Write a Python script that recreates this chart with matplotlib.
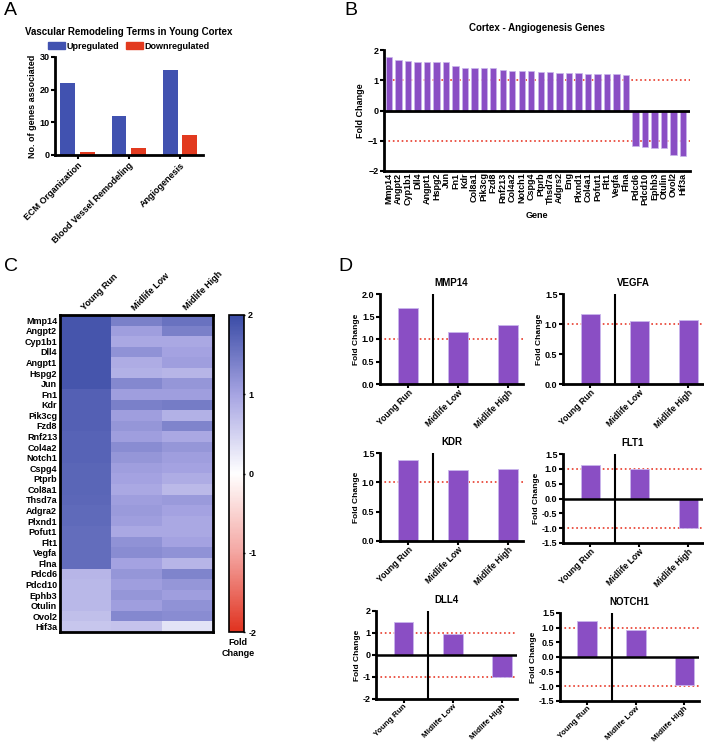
import numpy as np
import matplotlib
matplotlib.use("Agg")
import matplotlib.pyplot as plt
from matplotlib.colors import LinearSegmentedColormap
from matplotlib.patches import Patch

plt.rcParams['font.family'] = ['Liberation Sans', 'DejaVu Sans']
plt.rcParams['font.weight'] = 'bold'
plt.rcParams['axes.labelweight'] = 'bold'

# ---- data ----
# panel A
terms = ["ECM Organization", "Blood Vessel Remodeling", "Angiogenesis"]
up_counts = [22, 12, 26]
down_counts = [1, 2, 6]

# panel B
genes_b = ["Mmp14", "Angpt2", "Cyp1b1", "Dll4", "Angpt1", "Hspg2", "Jun", "Fn1", "Kdr",
           "Col8a1", "Pik3cg", "Fzd8", "Rnf213", "Col4a2", "Notch1", "Cspg4", "Ptprb",
           "Thsd7a", "Adgrs2", "Eng", "Plxnd1", "Col4a1", "Pofut1", "Flt1", "Vegfa", "Flna",
           "Pdcd6", "Pdcd10", "Ephb3", "Otulin", "Ovol2", "Hif3a"]
fold_b = [1.76, 1.67, 1.62, 1.60, 1.59, 1.59, 1.59, 1.46, 1.42, 1.41, 1.40, 1.39, 1.34,
          1.31, 1.30, 1.30, 1.28, 1.26, 1.23, 1.23, 1.23, 1.21, 1.21, 1.21, 1.20, 1.19,
          -1.19, -1.22, -1.23, -1.23, -1.47, -1.51]

# panel C
genes_c = ["Mmp14", "Angpt2", "Cyp1b1", "Dll4", "Angpt1", "Hspg2", "Jun", "Fn1", "Kdr",
           "Pik3cg", "Fzd8", "Rnf213", "Col4a2", "Notch1", "Cspg4", "Ptprb", "Col8a1",
           "Thsd7a", "Adgra2", "Plxnd1", "Pofut1", "Flt1", "Vegfa", "Flna", "Pdcd6",
           "Pdcd10", "Ephb3", "Otulin", "Ovol2", "Hif3a"]
groups = ["Young Run", "Midlife Low", "Midlife High"]
heat_young = [1.88, 1.88, 1.88, 1.88, 1.88, 1.88, 1.88, 1.75, 1.75, 1.75, 1.75, 1.72, 1.72,
              1.72, 1.70, 1.70, 1.70, 1.68, 1.65, 1.65, 1.62, 1.62, 1.62, 1.62,
              0.80, 0.78, 0.78, 0.78, 0.70, 0.62]
heat_low = [1.40, 1.05, 0.95, 1.20, 0.90, 0.85, 1.30, 1.05, 1.40, 1.05, 1.15, 1.05, 1.25,
            1.15, 1.05, 1.00, 0.95, 1.05, 1.10, 1.05, 0.95, 1.20, 1.25, 1.00,
            1.15, 1.05, 1.15, 1.05, 1.30, 0.65]
heat_high = [1.55, 1.40, 0.95, 1.00, 1.05, 0.80, 1.15, 1.05, 1.45, 0.85, 1.35, 0.95, 1.15,
             1.05, 1.00, 0.90, 0.75, 1.10, 1.00, 0.95, 0.95, 1.00, 1.20, 0.80,
             1.35, 1.15, 1.05, 1.20, 1.25, 0.30]

# panel D
d_titles = ["MMP14", "VEGFA", "KDR", "FLT1", "DLL4", "NOTCH1"]
d_values = [[1.70, 1.15, 1.32],
            [1.17, 1.05, 1.06],
            [1.38, 1.21, 1.23],
            [1.13, 0.98, -0.98],
            [1.48, 0.97, -0.98],
            [1.22, 0.93, -0.97]]
d_ylims = [(0, 2), (0, 1.5), (0, 1.5), (-1.5, 1.5), (-2, 2), (-1.5, 1.5)]
d_ticks = [[0, 0.5, 1.0, 1.5, 2.0], [0, 0.5, 1.0, 1.5], [0, 0.5, 1.0, 1.5],
           [-1.5, -1.0, -0.5, 0, 0.5, 1.0, 1.5], [-2, -1, 0, 1, 2],
           [-1.5, -1.0, -0.5, 0, 0.5, 1.0, 1.5]]

W, H = 704, 745
fig = plt.figure(figsize=(W / 100, H / 100), dpi=100)


def rect(l, t, r, b):
    return [l / W, 1 - b / H, (r - l) / W, (b - t) / H]


BLUE = "#4152b0"
RED = "#e23a1f"
PURPLE = "#8a4ec4"
EDGE = "#c9b6ec"
TFS = 6.5


def prism_axes(ax):
    for s in ["top", "right"]:
        ax.spines[s].set_visible(False)
    for s in ["left", "bottom"]:
        ax.spines[s].set_linewidth(2)
    ax.tick_params(width=1.5, length=3, labelsize=TFS, pad=1)


# ---- A ----
axA = fig.add_axes(rect(55, 57, 203, 155))
x = np.arange(len(terms))
axA.bar(x - 0.19, up_counts, 0.29, color=BLUE, label="Upregulated")
axA.bar(x + 0.19, down_counts, 0.29, color=RED, label="Downregulated")
axA.set_xlim(-0.44, 2.45)
axA.set_ylim(0, 30)
axA.set_yticks([0, 10, 20, 30])
axA.set_xticks(x)
axA.set_xticklabels(terms, rotation=45, ha="right", rotation_mode="anchor", fontsize=7)
axA.set_ylabel("No. of genes associated", fontsize=6.5, labelpad=2)
prism_axes(axA)
axA.set_title("Vascular Remodeling Terms in Young Cortex", fontsize=7, fontweight="bold", pad=16)
axA.legend(handles=[Patch(color=BLUE, label="Upregulated"), Patch(color=RED, label="Downregulated")],
           loc="lower center", bbox_to_anchor=(0.5, 1.02), ncol=2, frameon=False,
           fontsize=6.5, handlelength=1.8, handletextpad=0.2, columnspacing=0.8, borderpad=0)

# ---- B ----
axB = fig.add_axes(rect(384, 50, 690, 171))
xb = np.arange(len(genes_b))
axB.axhline(1, color="#e8392a", ls=":", lw=1.2, zorder=1)
axB.axhline(-1, color="#e8392a", ls=":", lw=1.2, zorder=1)
axB.bar(xb, fold_b, 0.67, color=PURPLE, edgecolor=EDGE, linewidth=0.5, zorder=2)
axB.axhline(0, color="black", lw=2, zorder=3)
axB.set_xlim(-0.53, 31.75)
axB.set_ylim(-2, 2)
axB.set_yticks([-2, -1, 0, 1, 2])
axB.set_xticks(xb)
axB.set_xticklabels(genes_b, rotation=90, fontsize=6.5)
axB.set_xlabel("Gene", fontsize=6.5, labelpad=4)
axB.set_ylabel("Fold Change", fontsize=6.5, labelpad=2)
prism_axes(axB)
axB.tick_params(axis="x", length=0)
axB.set_title("Cortex - Angiogenesis Genes", fontsize=7, fontweight="bold", pad=14)

# ---- C ----
cmap = LinearSegmentedColormap.from_list(
    "fc", [(0, "#e0321f"), (0.25, "#f4a6a2"), (0.5, "#ffffff"), (0.75, "#a6a4e2"), (1, "#3b4ca6")])
axC = fig.add_axes(rect(60, 315, 213, 632))
mat = np.column_stack([heat_young, heat_low, heat_high])
im = axC.imshow(mat, cmap=cmap, vmin=-2, vmax=2, aspect="auto", interpolation="nearest")
axC.set_yticks(np.arange(len(genes_c)))
axC.set_yticklabels(genes_c, fontsize=6.5)
axC.xaxis.tick_top()
axC.set_xticks(np.arange(3))
axC.set_xticklabels(groups, rotation=45, ha="left", rotation_mode="anchor", fontsize=6.5)
axC.tick_params(length=0, pad=2)
for s in axC.spines.values():
    s.set_linewidth(2)

axCB = fig.add_axes(rect(229, 315, 244, 632))
cb = fig.colorbar(im, cax=axCB, ticks=[-2, -1, 0, 1, 2])
cb.outline.set_linewidth(1.2)
axCB.tick_params(labelsize=6.5, length=2, width=1, direction="inout", pad=2)
axCB.set_yticklabels(["-2", "-1", "0", "1", "2"])
fig.text(238 / W, 1 - 638 / H, "Fold\nChange", ha="center", va="top", fontsize=6.5,
         fontweight="bold", linespacing=1.3)

# ---- D ----
d_rects = [(380, 294, 523, 384), (563, 294, 703, 384),
           (380, 453, 523, 541), (563, 454, 703, 543),
           (376, 611, 517, 699), (560, 613, 699, 701)]
d_label_fs = [6.3, 6.3, 6.3, 6.3, 5.9, 5.9]
xd = np.arange(3)
for title, vals, ylim, ticks, r, lfs in zip(d_titles, d_values, d_ylims, d_ticks, d_rects, d_label_fs):
    ax = fig.add_axes(rect(*r))
    ax.axhline(1, color="#e8392a", ls=":", lw=1.2, zorder=1)
    if ylim[0] < 0:
        ax.axhline(-1, color="#e8392a", ls=":", lw=1.2, zorder=1)
        ax.axhline(0, color="black", lw=1.8, zorder=3)
    ax.bar(xd, vals, 0.4, color=PURPLE, edgecolor=EDGE, linewidth=0.6, zorder=2)
    ax.axvline(0.5, color="black", lw=1.5, zorder=3)
    ax.set_xlim(-0.56, 2.3)
    ax.set_ylim(*ylim)
    ax.set_yticks(ticks)
    if title == "DLL4":
        ax.set_yticklabels([str(t) for t in ticks])
    else:
        ax.set_yticklabels([f"{t:.1f}" for t in ticks])
    ax.set_xticks(xd)
    ax.set_xticklabels(groups, rotation=45, ha="right", rotation_mode="anchor")
    ax.set_ylabel("Fold Change", fontsize=6, labelpad=1)
    prism_axes(ax)
    ax.tick_params(axis="x", labelsize=lfs, pad=0)
    ax.set_title(title, fontsize=7, fontweight="bold", pad=6)

# panel letters
for lab, px, py in [("A", 4, 2), ("B", 344, 2), ("C", 4, 258), ("D", 338, 258)]:
    fig.text(px / W, 1 - py / H, lab, fontsize=14, fontweight="normal", va="top", ha="left")

fig.savefig("out.png", dpi=100)
